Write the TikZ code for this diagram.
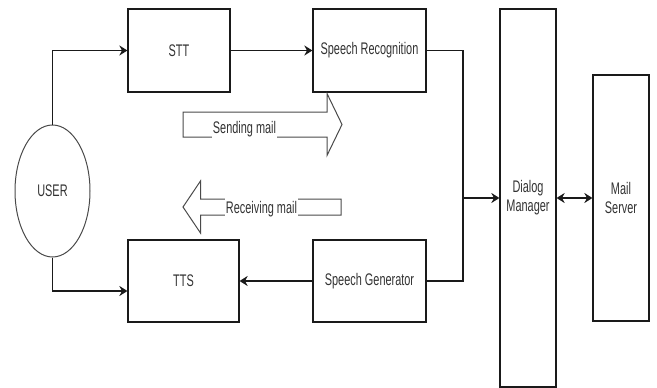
\documentclass[tikz,border=0pt]{standalone}
\usepackage{fontspec}
\setmainfont{Liberation Sans}[FakeStretch=0.65]
\usetikzlibrary{arrows.meta,positioning,shapes.geometric}
\definecolor{vmInk}{HTML}{1A1A1A}
\definecolor{vmText}{HTML}{333333}
\definecolor{vmSoft}{HTML}{4A4A4A}
\newcommand{\vmfont}{\fontsize{16.8}{18.7}\selectfont}
\tikzset{
  vm box/.style={
    draw=vmInk, line width=1.2pt, fill=white,
    inner sep=0pt, align=center, font=\vmfont, text=vmText
  },
  vm user/.style={
    ellipse, draw=vmSoft, line width=1pt, fill=white,
    minimum width=75pt, minimum height=132pt,
    inner sep=0pt, font=\vmfont, text=vmText
  },
  vm flow/.style={
    draw=vmInk, line width=1.3pt,
    -{Stealth[length=8pt,width=10pt,inset=2.5pt]}
  },
  vm both/.style={
    vm flow,
    {Stealth[length=8pt,width=10pt,inset=2.5pt]}-{Stealth[length=8pt,width=10pt,inset=2.5pt]}
  },
  vm wire/.style={draw=vmInk, line width=1.3pt},
  vm mail arrow/.style={draw=vmSoft, line width=1pt, fill=white, line join=miter},
  vm mail label/.style={
    fill=white, inner xsep=1pt, inner ysep=2.8pt,
    font=\vmfont, text=vmText, anchor=base
  }
}

\begin{document}
\begin{tikzpicture}[x=1pt,y=-1pt]
  \useasboundingbox (0,0) rectangle (657,388);

  \node[vm user] (user) at (52.5,191) {USER};

  \node[vm box, minimum width=102pt, minimum height=83pt] (stt) at (179,50.5) {STT};
  \node[vm box, minimum width=113pt, minimum height=83pt] (sr) at (369.5,50.5) {Speech Recognition};
  \node[vm box, minimum width=111pt, minimum height=82pt] (tts) at (183.5,281) {TTS};
  \node[vm box, minimum width=113pt, minimum height=82pt] (sg) at (369.5,281) {Speech Generator};

  \node[vm box, minimum width=56pt, minimum height=378pt] (dm) at (528,198) {Dialog\\Manager};
  \node[vm box, minimum width=56pt, minimum height=246pt] (ms) at (621,198) {Mail\\Server};

  \coordinate (bus) at (463,198);

  \draw[vm flow] (user.north) |- (stt.west);
  \draw[vm flow] (stt.east) -- (sr.west);
  \draw[vm wire] (sr.east) -| (bus);
  \draw[vm wire] (sg.east) -| (bus);
  \draw[vm flow] (bus) -- (dm.west);
  \draw[vm flow] (sg.west) -- (tts.east);
  \draw[vm flow] (user.south) |- ([yshift=-10pt]tts.west);
  \draw[vm both] (dm.east) -- (ms.west);

  % mail direction arrows
  \draw[vm mail arrow] (183,112) -- (327,112) -- (327,93.5) -- (342,124.5)
    -- (327,155.5) -- (327,137) -- (183,137) -- cycle;
  \node[vm mail label] (send) at (244.5,133) {Sending mail};

  \draw[vm mail arrow] (341,199) -- (200.5,199) -- (200.5,181) -- (183,207)
    -- (200.5,233) -- (200.5,215) -- (341,215) -- cycle;
  \node[vm mail label] (recv) at (261.5,213) {Receiving mail};
\end{tikzpicture}
\end{document}
